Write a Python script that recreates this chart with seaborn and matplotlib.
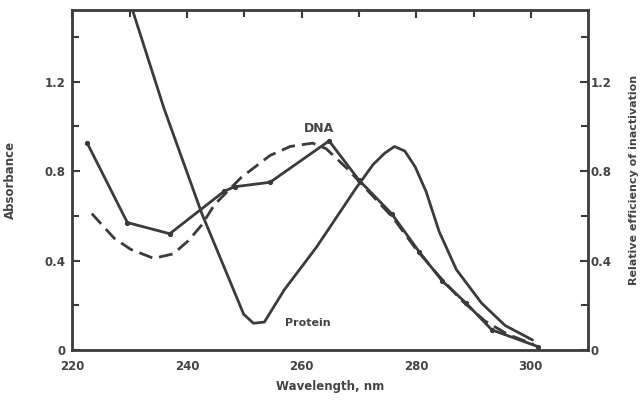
import numpy as np
import pandas as pd
import matplotlib
matplotlib.use("Agg")
import matplotlib.pyplot as plt
import seaborn as sns

# values
protein_nm = [229.5, 236.0, 242.6, 246.5, 249.9, 251.6, 253.5, 257.0, 262.6, 266.0,
              269.4, 272.5, 274.5, 276.2, 278.0, 279.8, 281.7, 284.0, 287.0, 291.4,
              295.5, 300.3]
protein_abs = [1.60, 1.08, 0.61, 0.37, 0.16, 0.12, 0.125, 0.27, 0.46, 0.59,
               0.72, 0.83, 0.88, 0.91, 0.89, 0.82, 0.71, 0.53, 0.36, 0.21,
               0.11, 0.045]

dna_nm = [223.4, 227.3, 230.2, 234.2, 237.6, 240.3, 242.6, 244.8, 249.4, 254.5,
          258.0, 261.9, 264.3, 268.0, 272.0, 276.0, 280.0, 284.0, 288.0, 292.0,
          296.0, 300.5]
dna_abs = [0.61, 0.50, 0.45, 0.41, 0.43, 0.49, 0.56, 0.65, 0.77, 0.87,
           0.91, 0.925, 0.90, 0.81, 0.70, 0.59, 0.45, 0.33, 0.22, 0.13,
           0.07, 0.025]

eff_nm = [222.6, 229.6, 237.0, 246.5, 248.3, 254.5, 264.8, 270.0, 275.7, 280.5,
          284.5, 288.7, 293.2, 301.3]
eff_val = [0.925, 0.57, 0.52, 0.71, 0.73, 0.75, 0.935, 0.76, 0.61, 0.44,
           0.31, 0.21, 0.09, 0.015]

x_major = [220, 240, 260, 280, 300]
y_major = [0, 0.4, 0.8, 1.2]
y_labels = ["0", "0.4", "0.8", "1.2"]

ink = "#3b3b3b"
txt = "#444444"

sns.set_style("white")
plt.rcParams["font.family"] = ["DejaVu Sans"]

fig = plt.figure(figsize=(6.4, 4.01), dpi=100)
ax = fig.add_axes([0.113, 0.127, 0.806, 0.848])

protein = pd.DataFrame({"nm": protein_nm, "val": protein_abs})
dna = pd.DataFrame({"nm": dna_nm, "val": dna_abs})
eff = pd.DataFrame({"nm": eff_nm, "val": eff_val})

sns.lineplot(data=protein, x="nm", y="val", ax=ax, color=ink, lw=2.0,
             sort=False, estimator=None)
sns.lineplot(data=dna, x="nm", y="val", ax=ax, color=ink, lw=2.0,
             sort=False, estimator=None, dashes=False, linestyle=(0, (5, 2.5)))
sns.lineplot(data=eff, x="nm", y="val", ax=ax, color=ink, lw=2.0,
             sort=False, estimator=None, marker="o", markersize=3,
             markeredgecolor=ink)

ax.set_xlim(220, 310)
ax.set_ylim(0, 1.52)

ax.set_xticks(x_major)
ax.set_xticks(np.arange(230, 310, 10), minor=True)
ax.set_yticks(y_major)
ax.set_yticklabels(y_labels)
ax.set_yticks([0.2, 0.6, 1.0, 1.4], minor=True)
ax.tick_params(axis="both", which="both", direction="in", color=ink,
               width=1.5, labelsize=8.5, labelcolor=txt, top=True)
ax.tick_params(axis="x", pad=7)
ax.tick_params(axis="y", pad=5)
ax.tick_params(which="major", length=6)
ax.tick_params(which="minor", length=5)
for lab in ax.get_xticklabels() + ax.get_yticklabels():
    lab.set_fontweight("bold")

for sp in ax.spines.values():
    sp.set_color(ink)
    sp.set_linewidth(2.0)

ax.set_xlabel("Wavelength, nm", fontsize=8.5, color=txt,
              fontweight="bold", labelpad=5)
ax.set_ylabel("Absorbance", fontsize=8.5, color=txt,
              fontweight="bold", labelpad=20)

ax2 = ax.twinx()
ax2.set_ylim(0, 1.52)
ax2.set_yticks(y_major)
ax2.set_yticklabels(y_labels)
ax2.set_yticks([0.2, 0.6, 1.0, 1.4], minor=True)
ax2.tick_params(axis="y", which="both", direction="in", color=ink, width=1.5,
                labelsize=8.5, labelcolor=txt, pad=2)
ax2.tick_params(which="major", length=6)
ax2.tick_params(which="minor", length=5)
for lab in ax2.get_yticklabels():
    lab.set_fontweight("bold")
for sp in ax2.spines.values():
    sp.set_visible(False)
ax2.set_ylabel("Relative efficiency of inactivation", fontsize=8,
               color=txt, fontweight="bold", labelpad=12)

ax.text(263.1, 0.99, "DNA", fontsize=9, color=txt, fontweight="bold",
        ha="center", va="center")
ax.text(261.0, 0.12, "Protein", fontsize=8, color=txt,
        fontweight="bold", ha="center", va="center")

ax.set_zorder(ax2.get_zorder() + 1)
ax.patch.set_visible(False)

fig.savefig("out.png", dpi=100)
